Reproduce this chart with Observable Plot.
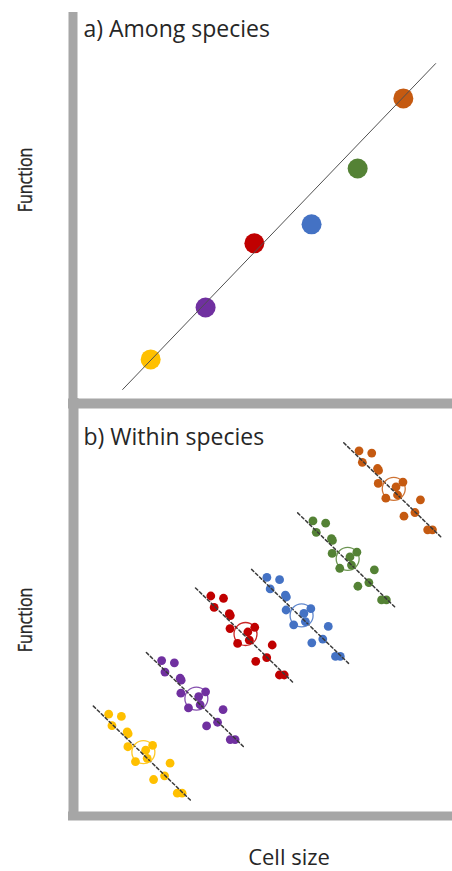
<!DOCTYPE html>
<html>
<head>
<meta charset="utf-8">
<script src="https://cdn.jsdelivr.net/npm/d3@7"></script>
<script src="https://cdn.jsdelivr.net/npm/@observablehq/plot@0.6"></script>
<style>
  body { margin: 0; background: #fff; }
  #wrap { position: relative; width: 452px; height: 871px; font-family: "Open Sans", sans-serif; color: #262626; background: #fff; }
  #panelA { position: absolute; left: 0; top: 0; }
  #panelB { position: absolute; left: 0; top: 398px; }
  .ylab { position: absolute; font-size: 20px; line-height: 20px; white-space: nowrap;
          -webkit-text-stroke: 0.35px #262626;
          transform: translate(-50%, -50%) rotate(-90deg) scaleX(0.8); }
  .xlab { position: absolute; font-size: 22px; line-height: 22px; white-space: nowrap;
          transform: translateX(-50%); }
</style>
</head>
<body>
<div id="wrap">
  <div id="panelA"></div>
  <div id="panelB"></div>
  <div class="ylab" style="left:25px; top:180px;">Function</div>
  <div class="ylab" style="left:25px; top:620px;">Function</div>
  <div class="xlab" style="left:289px; top:845px;">Cell size</div>
</div>
<script>
// ---------- data ----------
const species = ["Species 1", "Species 2", "Species 3", "Species 4", "Species 5", "Species 6"];
const palette = ["#ffc000", "#7030a0", "#c00000", "#4472c4", "#548235", "#c55a11"];

const panelTitles = ["a) Among species", "b) Within species"];

// a) species means
const amongCellSize = [2.14, 3.57, 4.84, 6.33, 7.53, 8.72];
const amongFunction = [1.24, 2.55, 4.17, 4.65, 6.06, 7.83];
// a) among-species regression line (end points)
const fitCellSize = [1.41, 9.56];
const fitFunction = [0.48, 8.71];

// b) species means (open circles)
const withinMeanCellSize = [1.95, 3.33, 4.61, 6.07, 7.27, 8.47];
const withinMeanFunction = [1.62, 2.89, 4.42, 4.86, 6.20, 7.86];
// b) individuals, as deviations from their species mean
const indivDevCellSize = [-0.904, -0.573, -0.818, -0.422, -0.396, -0.404, 0.060, 0.240, -0.206, 0.099, 0.695, 0.552, 0.266, 0.883, 1.008];
const indivDevFunction = [0.900, 0.846, 0.628, 0.481, 0.436, 0.128, 0.047, 0.159, -0.223, -0.147, -0.261, -0.562, -0.649, -0.972, -0.972];
// b) within-species regression line end points, as deviations from the mean
const withinLineDevCellSize = [-1.302, 1.224];
const withinLineDevFunction = [1.090, -1.137];

// ---------- tables ----------
const amongData = species.map((s, i) => ({species: s, x: amongCellSize[i], y: amongFunction[i]}));
const fitData = fitCellSize.map((x, i) => ({x, y: fitFunction[i]}));
const meansB = species.map((s, i) => ({species: s, x: withinMeanCellSize[i], y: withinMeanFunction[i]}));
const indivB = meansB.flatMap(m => indivDevCellSize.map((dx, j) => ({species: m.species, x: m.x + dx, y: m.y + indivDevFunction[j]})));
const linesB = meansB.flatMap(m => withinLineDevCellSize.map((dx, j) => ({species: m.species, x: m.x + dx, y: m.y + withinLineDevFunction[j]})));

const frameGray = "#a6a6a6";
const textColor = "#262626";
const colorScale = {domain: species, range: palette};

// ---------- panel a ----------
const plotA = Plot.plot({
  width: 452, height: 408,
  marginLeft: 68, marginRight: 0, marginTop: 12, marginBottom: 0,
  x: {domain: [0, 10], axis: null},
  y: {domain: [0, 10], axis: null},
  color: colorScale,
  style: {fontFamily: "Open Sans", background: "white", overflow: "visible"},
  marks: [
    Plot.dot(amongData, {x: "x", y: "y", r: 10, fill: "species", stroke: "none"}),
    Plot.line(fitData, {x: "x", y: "y", stroke: "#505050", strokeWidth: 1}),
    Plot.ruleX([0], {stroke: frameGray, strokeWidth: 9, dx: 4.5}),
    Plot.ruleY([0], {stroke: frameGray, strokeWidth: 10, dy: -5}),
    Plot.text([panelTitles[0]], {text: d => d, frameAnchor: "top-left", textAnchor: "start", lineAnchor: "top",
      dx: 15, dy: 8, fontSize: 23, fill: textColor})
  ]
});
document.getElementById("panelA").appendChild(plotA);

// ---------- panel b ----------
const plotB = Plot.plot({
  width: 452, height: 422,
  marginLeft: 68, marginRight: 0, marginTop: 0, marginBottom: 0,
  x: {domain: [0, 10], axis: null},
  y: {domain: [0, 10], axis: null},
  color: colorScale,
  style: {fontFamily: "Open Sans", background: "white", overflow: "visible"},
  marks: [
    Plot.dot(indivB, {x: "x", y: "y", r: 4.4, fill: "species", stroke: "none"}),
    Plot.line(linesB, {x: "x", y: "y", z: "species", stroke: "#3a3a3a", strokeWidth: 1.5, strokeDasharray: "3,2.5"}),
    Plot.dot(meansB, {x: "x", y: "y", r: 11.5, stroke: "species", fill: "none", strokeWidth: 1.3, strokeOpacity: 0.85}),
    Plot.ruleX([0], {stroke: frameGray, strokeWidth: 10, dx: 5}),
    Plot.ruleY([10], {stroke: frameGray, strokeWidth: 10, dy: 5}),
    Plot.ruleY([0], {stroke: frameGray, strokeWidth: 9, dy: -4.5}),
    Plot.text([panelTitles[1]], {text: d => d, frameAnchor: "top-left", textAnchor: "start", lineAnchor: "top",
      dx: 15, dy: 30.5, fontSize: 23, fill: textColor})
  ]
});
document.getElementById("panelB").appendChild(plotB);
</script>
</body>
</html>
